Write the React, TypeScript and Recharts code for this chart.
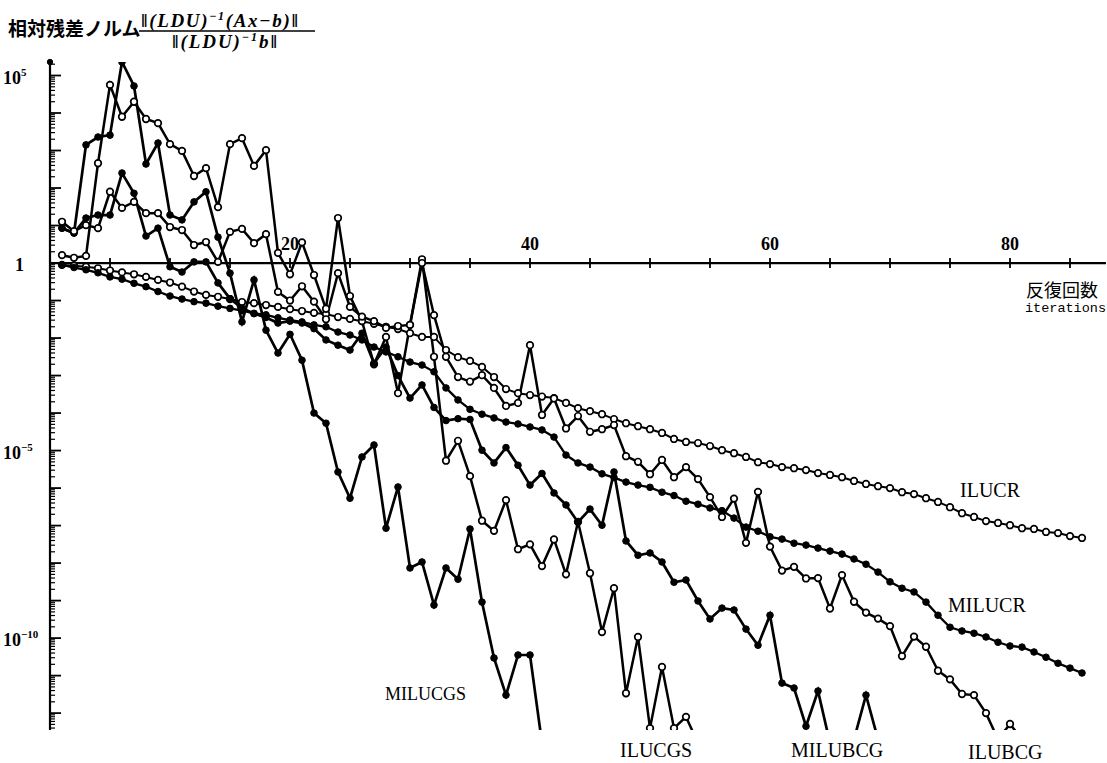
import React from 'react';
import { LineChart, Line, XAxis, YAxis, ReferenceLine, ReferenceDot } from 'recharts';

// residual values are stored as log10 exponents
const ILUCR = [
  -0.05, -0.07, -0.1, -0.14, -0.2, -0.25, -0.3, -0.37, -0.45, -0.52,
  -0.63, -0.76, -0.85, -0.9, -0.96, -1.04, -1.07, -1.12, -1.17, -1.23,
  -1.28, -1.33, -1.36, -1.44, -1.49, -1.55, -1.62, -1.7, -1.76, -1.87,
  -1.97, -1.97, -2.32, -2.51, -2.61, -2.77, -3.04, -3.36, -3.47, -3.52,
  -3.56, -3.6, -3.73, -3.87, -3.95, -4.03, -4.16, -4.27, -4.35, -4.43,
  -4.53, -4.69, -4.77, -4.8, -4.88, -4.99, -5.07, -5.17, -5.31, -5.36,
  -5.44, -5.47, -5.52, -5.6, -5.65, -5.71, -5.81, -5.89, -5.95, -6.0,
  -6.11, -6.16, -6.27, -6.37, -6.51, -6.67, -6.77, -6.88, -6.93, -6.99,
  -7.07, -7.09, -7.17, -7.2, -7.28, -7.33,
];

const MILUCR = [
  -0.05, -0.12, -0.18, -0.26, -0.37, -0.43, -0.54, -0.63, -0.76, -0.88,
  -0.96, -1.03, -1.07, -1.15, -1.21, -1.27, -1.34, -1.38, -1.46, -1.52,
  -1.57, -1.65, -1.7, -1.84, -1.92, -2.05, -2.24, -2.37, -2.5, -2.64,
  -2.72, -2.9, -3.33, -3.65, -3.9, -4.03, -4.13, -4.24, -4.29, -4.37,
  -4.45, -4.64, -5.12, -5.33, -5.44, -5.62, -5.72, -5.84, -5.92, -5.98,
  -6.11, -6.2, -6.35, -6.43, -6.53, -6.6, -6.8, -7.04, -7.15, -7.3,
  -7.36, -7.47, -7.52, -7.6, -7.68, -7.76, -7.89, -8.03, -8.24, -8.5,
  -8.67, -8.77, -9.04, -9.39, -9.71, -9.81, -9.87, -9.97, -10.11, -10.21,
  -10.24, -10.37, -10.51, -10.67, -10.8, -10.93,
];

const MILUCGS = [
  0.93, 0.8, 3.15, 3.36, 3.41, 5.36, 4.72, 2.64, 3.2, 1.28,
  1.15, 1.63, 1.9, 0.69, -0.27, -1.57, -0.45, -1.79, -2.4, -1.9,
  -2.59, -4.0, -4.27, -5.57, -6.27, -5.17, -4.85, -7.07, -5.97, -8.13,
  -7.97, -9.12, -8.13, -8.43, -7.09, -9.04, -10.53, -11.52, -10.45, -10.45,
  -12.8,
];

const ILUCGS = [
  0.21, 0.14, 0.19, 2.66, 4.75, 3.9, 4.3, 3.84, 3.73, 3.17,
  2.99, 2.32, 2.53, 1.49, 3.17, 3.33, 2.59, 3.01, 0.27, -0.3,
  0.55, -0.32, -1.22, 1.2, -0.88, -1.55, -2.7, -1.97, -3.47, -1.65,
  0.1, -2.5, -5.27, -4.74, -5.68, -6.87, -7.14, -6.32, -7.63, -7.5,
  -8.08, -7.37, -8.3, -6.9, -8.27, -9.84, -8.67, -11.47, -9.97, -12.4,
  -10.77, -12.4, -12.1, -12.8,
];

const MILUBCG = [
  0.93, 0.8, 1.2, 1.28, 1.28, 2.4, 1.86, 0.72, 0.93, -0.1,
  -0.24, 0.03, 0.03, -0.53, -0.95, -1.2, -1.35, -1.45, -1.6, -1.55,
  -1.6, -1.75, -2.05, -2.19, -2.32, -1.87, -2.67, -2.24, -3.0, -3.6,
  -3.25, -3.85, -4.2, -4.15, -4.17, -4.99, -5.33, -4.92, -5.39, -5.92,
  -5.61, -6.13, -6.45, -6.91, -6.56, -6.99, -5.57, -7.41, -7.79, -7.73,
  -7.97, -8.51, -8.45, -9.01, -9.49, -9.2, -9.25, -9.76, -10.19, -9.39,
  -11.2, -11.33, -12.35, -11.41, -12.8, -14.5, -12.7, -11.52, -12.7,
];

const ILUBCG = [
  1.1, 0.85, 1.01, 0.93, 1.9, 1.47, 1.63, 1.33, 1.33, 0.96,
  0.88, 0.48, 0.56, 0.03, 0.83, 0.91, 0.53, 0.77, -0.77, -1.0,
  -0.62, -1.03, -1.5, -0.27, -1.17, -1.43, -1.55, -1.73, -1.68, -1.65,
  0.0, -1.39, -2.5, -3.04, -3.16, -2.99, -3.33, -3.81, -3.73, -2.19,
  -4.05, -3.61, -4.41, -4.08, -4.5, -4.43, -4.32, -5.15, -5.3, -5.63,
  -5.25, -5.71, -5.44, -5.76, -6.24, -6.77, -6.28, -7.46, -6.1, -7.56,
  -8.2, -8.1, -8.41, -8.4, -9.21, -8.32, -9.03, -9.32, -9.48, -9.68,
  -10.48, -9.96, -10.23, -10.87, -11.1, -11.49, -11.52, -12.0, -12.7, -12.29,
  -12.7,
];

const X_TICKS = [5, 10, 15, 20, 25, 30, 35, 40, 45, 50, 55, 60, 65, 70, 75, 80, 85];
const X_TICK_LABELS = [20, 40, 60, 80];
const Y_LABELS = [
  { at: 5, base: '10', sup: '5' },
  { at: 0, base: '1', sup: '' },
  { at: -5, base: '10', sup: '−5' },
  { at: -10, base: '10', sup: '−10' },
];

const Y_MIN = -12.45;
const Y_MAX = 5.36;

const yTicks: number[] = [];
for (let d = -13; d <= 5; d++) {
  for (let k = 1; k <= 9; k++) {
    const t = d + Math.log10(k);
    if (t >= Y_MIN && t <= Y_MAX) yTicks.push(t);
  }
}

const maxLen = Math.max(ILUCR.length, MILUCR.length);
const rows = Array.from({ length: maxLen }, (_, i) => ({
  it: i + 1,
  ilucr: ILUCR[i],
  milucr: MILUCR[i],
  milucgs: MILUCGS[i],
  ilucgs: ILUCGS[i],
  milubcg: MILUBCG[i],
  ilubcg: ILUBCG[i],
}));

const serif = "'Liberation Serif', 'DejaVu Serif', serif";

function YTick(props: any) {
  const { x, y, payload } = props;
  const v = payload.value;
  const major = Math.abs(v - Math.round(v)) < 1e-6;
  const lab = major ? Y_LABELS.find((l) => l.at === Math.round(v)) : undefined;
  return (
    <g>
      <line x1={x} x2={x + (major ? 11 : 5)} y1={y} y2={y} stroke="#000" strokeWidth={major ? 1.8 : 1.2} />
      {lab && (
        <text
          x={lab.sup ? x - 47 : x - 35}
          y={y + 8}
          fontFamily={serif}
          fontWeight={700}
          fontSize={18}
          fill="#000"
        >
          {lab.base}
          {lab.sup && (
            <tspan dy={-8} fontSize={11}>
              {lab.sup}
            </tspan>
          )}
        </text>
      )}
    </g>
  );
}

function XTickMark(props: any) {
  const { cx, cy, tick } = props;
  const labelled = X_TICK_LABELS.includes(tick);
  return (
    <g>
      <line x1={cx} x2={cx} y1={cy - 5} y2={cy + 5} stroke="#000" strokeWidth={1.8} />
      {labelled && (
        <text x={cx} y={cy - 13} textAnchor="middle" fontFamily={serif} fontWeight={700} fontSize={18} fill="#000">
          {tick}
        </text>
      )}
    </g>
  );
}

const openDot = { r: 3.3, fill: '#fff', stroke: '#000', strokeWidth: 1.7 };
const fullDot = { r: 3.3, fill: '#000', stroke: '#000', strokeWidth: 1 };

const seriesList = [
  { key: 'ilucr', dot: openDot, w: 2 },
  { key: 'milucr', dot: fullDot, w: 2.3 },
  { key: 'milucgs', dot: fullDot, w: 2.7 },
  { key: 'ilucgs', dot: openDot, w: 2.5 },
  { key: 'milubcg', dot: fullDot, w: 2.7 },
  { key: 'ilubcg', dot: openDot, w: 2.5 },
];

export default function App() {
  return (
    <div style={{ position: 'absolute', left: 0, top: 0, width: 1107, height: 763, background: '#fff' }}>
      <LineChart width={1107} height={763} data={rows} margin={{ top: 62, right: 1, bottom: 33, left: 0 }}>
        <XAxis dataKey="it" type="number" domain={[0, 88]} hide />
        <YAxis
          type="number"
          domain={[Y_MIN, Y_MAX]}
          ticks={yTicks}
          interval={0}
          width={50}
          tickSize={0}
          tickMargin={0}
          tickLine={false}
          tick={<YTick />}
          axisLine={{ stroke: '#000', strokeWidth: 2.2 }}
          allowDataOverflow
        />
        <ReferenceLine y={0} stroke="#000" strokeWidth={2.2} />
        {X_TICKS.map((t) => (
          <ReferenceDot key={t} x={t} y={0} r={0} shape={(p: any) => <XTickMark {...p} tick={t} />} />
        ))}
        <ReferenceDot x={0} y={Y_MAX} r={2.7} fill="#000" stroke="#000" ifOverflow="visible" />
        {seriesList.map((s) => (
          <Line
            key={s.key}
            dataKey={s.key}
            type="linear"
            stroke="#000"
            strokeWidth={s.w}
            dot={s.dot}
            activeDot={false}
            isAnimationActive={false}
          />
        ))}
      </LineChart>
      <svg
        width={1107}
        height={763}
        style={{ position: 'absolute', left: 0, top: 0, pointerEvents: 'none' }}
      >
        <text x={8} y={36} fontFamily="'Noto Sans CJK JP'" fontWeight={700} fontSize={19} fill="#000">
          相対残差ノルム
        </text>
        <text
          x={141}
          y={27}
          fontFamily={serif}
          fontStyle="italic"
          fontWeight={700}
          fontSize={19}
          fill="#000"
          textLength={157}
          lengthAdjust="spacing"
        >
          ‖(LDU)
          <tspan dy={-7} fontSize={12}>−1</tspan>
          <tspan dy={7}>(A</tspan>
          <tspan>x−b)‖</tspan>
        </text>
        <line x1={139} x2={315} y1={31} y2={31} stroke="#000" strokeWidth={1.5} />
        <text
          x={172}
          y={48}
          fontFamily={serif}
          fontStyle="italic"
          fontWeight={700}
          fontSize={19}
          fill="#000"
          textLength={105}
          lengthAdjust="spacing"
        >
          ‖(LDU)
          <tspan dy={-7} fontSize={12}>−1</tspan>
          <tspan dy={7}>b‖</tspan>
        </text>
        <text x={1026} y={297} fontFamily="'Noto Sans CJK JP'" fontSize={18} fill="#000">
          反復回数
        </text>
        <text x={1025} y={312} fontFamily="'Liberation Mono', monospace" fontSize={13.5} fill="#000">
          iterations
        </text>
        <text x={960} y={497} fontFamily={serif} fontSize={20} fill="#000">ILUCR</text>
        <text x={948} y={612} fontFamily={serif} fontSize={20} fill="#000">MILUCR</text>
        <text x={385} y={700} fontFamily={serif} fontSize={18} fill="#000">MILUCGS</text>
        <text x={620} y={757} fontFamily={serif} fontSize={20} fill="#000">ILUCGS</text>
        <text x={791} y={757} fontFamily={serif} fontSize={20} fill="#000">MILUBCG</text>
        <text x={968} y={759} fontFamily={serif} fontSize={20} fill="#000">ILUBCG</text>
      </svg>
    </div>
  );
}
